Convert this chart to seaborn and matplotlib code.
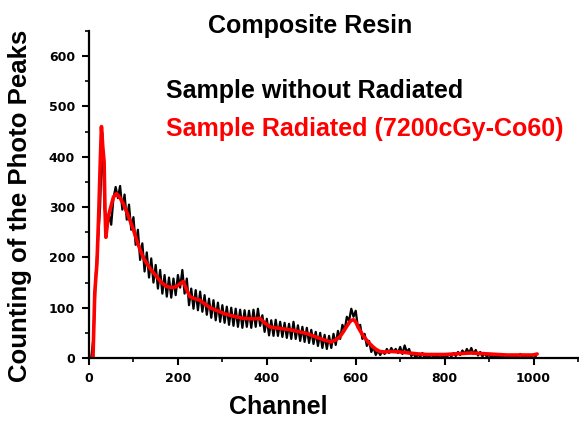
import matplotlib
matplotlib.use("Agg")
import matplotlib.pyplot as plt
from matplotlib.ticker import MultipleLocator
import seaborn as sns

# --- Data ---

# Sample without radiation (noisy raw spectrum), one point every 5 channels
channel_raw = list(range(0, 1010, 5))
counts_raw = [
    0, 0, 40, 160, 230, 300, 448, 300, 255, 285,          # 0-45
    265, 318, 340, 318, 342, 295, 325, 275, 305, 255,     # 50-95
    280, 225, 255, 195, 228, 172, 210, 160, 198, 150,     # 100-145
    185, 138, 175, 128, 165, 122, 160, 120, 158, 125,     # 150-195
    165, 140, 175, 128, 158, 105, 138, 98, 135, 95,       # 200-245
    132, 92, 125, 86, 118, 80, 115, 75, 110, 72,          # 250-295
    105, 70, 102, 66, 100, 64, 98, 62, 96, 60,            # 300-345
    95, 62, 94, 60, 96, 62, 98, 64, 85, 52,               # 350-395
    78, 45, 75, 44, 76, 44, 72, 42, 70, 40,               # 400-445
    68, 38, 72, 38, 65, 34, 62, 32, 60, 30,               # 450-495
    56, 28, 52, 24, 50, 20, 46, 18, 44, 20,               # 500-545
    48, 26, 54, 38, 66, 55, 82, 74, 98, 82,               # 550-595
    94, 60, 66, 38, 48, 24, 34, 12, 22, 6,                # 600-645
    15, 6, 14, 8, 18, 10, 20, 12, 18, 10,                 # 650-695
    22, 8, 25, 12, 18, 4, 10, 0, 8, 2,                    # 700-745
    10, 0, 6, 2, 8, 0, 5, 2, 7, 0,                        # 750-795
    4, 2, 8, 3, 10, 4, 12, 6, 15, 8,                      # 800-845
    18, 10, 20, 8, 16, 5, 12, 3, 10, 2,                   # 850-895
    8, 0, 6, 2, 5, 0, 4, 0, 5, 1,                         # 900-945
    6, 0, 4, 2, 8, 1, 6, 0, 5, 2,                         # 950-995
    7, 3,                                                 # 1000-1005
]

# Sample radiated (7200cGy-Co60), smoother curve
channel_rad = [0, 5, 9, 13, 18, 22, 25, 28, 31, 34, 36, 38, 43, 49, 55, 62, 70, 77,
               85, 92, 100, 107, 115, 122, 130, 140, 152, 163, 175, 187, 197, 205,
               212, 220, 227, 238, 249, 260, 272, 283, 294, 305, 317, 330, 346, 360,
               372, 384, 395, 407, 418, 429, 444, 459, 474, 489, 504, 519, 532, 545,
               555, 564, 572, 579, 585, 590, 595, 600, 605, 610, 617, 624, 632, 639,
               646, 654, 665, 680, 700, 720, 742, 760, 780, 800, 820, 840, 860, 880,
               900, 920, 940, 960, 980, 1000, 1008]
counts_rad = [0, 0, 0, 130, 190, 290, 380, 460, 420, 390, 295, 240, 280, 300, 320, 327, 318, 307,
              290, 274, 255, 235, 215, 200, 188, 175, 162, 150, 142, 140, 142, 148,
              152, 135, 122, 118, 115, 108, 100, 96, 92, 88, 85, 82, 79, 78,
              78, 79, 70, 62, 60, 59, 57, 55, 52, 49, 44, 39, 35, 32,
              36, 42, 52, 62, 70, 75, 76, 72, 62, 54, 44, 36, 28, 22,
              17, 13, 12, 13, 12, 10, 8, 7, 7, 7, 8, 9, 10, 9,
              8, 7, 6, 6, 6, 6, 8]

# --- Plot ---
sns.set_style("ticks")
plt.rcParams["font.family"] = ["Liberation Sans", "DejaVu Sans"]
plt.rcParams["text.color"] = "black"
plt.rcParams["axes.labelcolor"] = "black"
plt.rcParams["xtick.color"] = "black"
plt.rcParams["ytick.color"] = "black"
plt.rcParams["axes.edgecolor"] = "black"

fig = plt.figure(figsize=(5.79, 4.21), dpi=100)
ax = fig.add_axes([0.1537, 0.1496, 0.8446, 0.7767])

sns.lineplot(x=channel_raw, y=counts_raw, ax=ax, color="black", linewidth=1.6,
             label="Sample without Radiated")
sns.lineplot(x=channel_rad, y=counts_rad, ax=ax, color="#ff0000", linewidth=2.6,
             label="Sample Radiated (7200cGy-Co60)")

ax.set_xlim(0, 1100)
ax.set_ylim(0, 650)
ax.xaxis.set_major_locator(MultipleLocator(200))
ax.xaxis.set_minor_locator(MultipleLocator(100))
ax.yaxis.set_major_locator(MultipleLocator(100))
ax.yaxis.set_minor_locator(MultipleLocator(50))
ax.tick_params(which="major", length=5, width=1.5, labelsize=9, pad=5)
ax.tick_params(which="minor", length=3, width=1.2)
for lab in ax.get_xticklabels() + ax.get_yticklabels():
    lab.set_fontweight("bold")
    lab.set_family("DejaVu Sans")

sns.despine(ax=ax)
for s in ["left", "bottom"]:
    ax.spines[s].set_linewidth(1.6)

ax.set_title("Composite Resin", fontsize=18, fontweight="bold", x=0.452, y=1.0, pad=-1.5)
ax.set_xlabel("Channel", fontsize=18, fontweight="bold")
ax.set_ylabel("Counting of the Photo Peaks", fontsize=18.5, fontweight="bold")
ax.xaxis.set_label_coords(0.3875, -0.112)
ax.yaxis.set_label_coords(-0.116, 0.465)

leg = ax.legend(loc="upper left", bbox_to_anchor=(0.158, 0.853), frameon=False,
                handlelength=0, handletextpad=0, labelspacing=0.55,
                labelcolor="linecolor", prop={"size": 18, "weight": "bold"},
                borderaxespad=0, borderpad=0)
for h in leg.legend_handles:
    h.set_visible(False)

fig.savefig("out.png", dpi=100)
